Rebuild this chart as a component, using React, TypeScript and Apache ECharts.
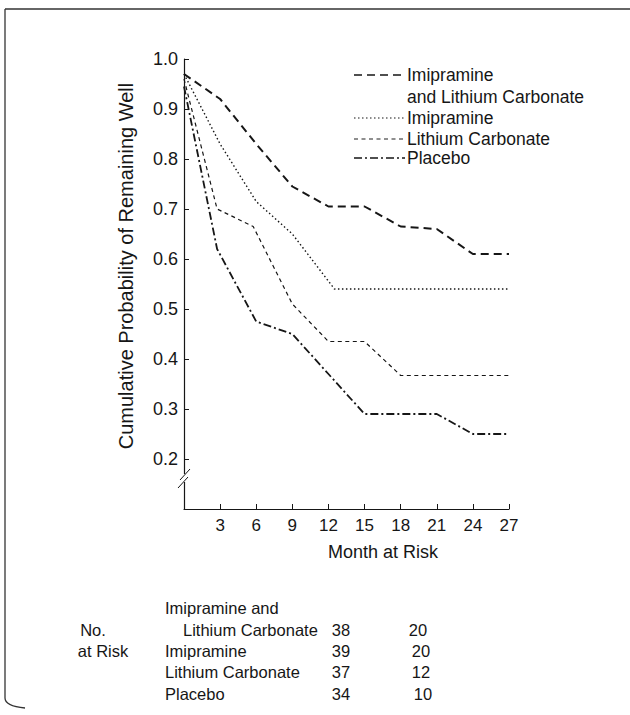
import React, { useEffect, useRef } from "react";
import * as echarts from "echarts";

// Month ticks on the x axis
const monthTicks = [3, 6, 9, 12, 15, 18, 21, 24, 27];
// y tick labels
const probTicks = [0.2, 0.3, 0.4, 0.5, 0.6, 0.7, 0.8, 0.9, 1.0];

// Imipramine and Lithium Carbonate
const imiLiMonths = [0, 3, 6, 9, 12, 15, 18, 21, 24, 27];
const imiLiValues = [0.97, 0.92, 0.83, 0.745, 0.705, 0.705, 0.665, 0.66, 0.61, 0.61];

// Imipramine
const imiMonths = [0, 3, 6, 9, 12.5, 27];
const imiValues = [0.97, 0.83, 0.715, 0.65, 0.54, 0.54];

// Lithium Carbonate
const lithMonths = [0, 2.75, 5.75, 9, 12, 15, 18, 27];
const lithValues = [0.96, 0.7, 0.665, 0.51, 0.435, 0.435, 0.367, 0.367];

// Placebo
const placMonths = [0, 2.75, 6, 9, 12, 15, 21, 24, 27];
const placValues = [0.945, 0.62, 0.475, 0.45, 0.37, 0.29, 0.29, 0.25, 0.25];

// Number at risk table
const riskGroups = ["Imipramine and", "Lithium Carbonate", "Imipramine", "Lithium Carbonate", "Placebo"];
const riskCol1 = ["38", "39", "37", "34"];
const riskCol2 = ["20", "20", "12", "10"];

const FONT = '"Liberation Sans", Arial, Helvetica, sans-serif';
const INK = "#161616";

function pairs(xs: number[], ys: number[]) {
  return xs.map((x, i) => [x, ys[i]]);
}

export default function App() {
  const ref = useRef<HTMLDivElement>(null);

  useEffect(() => {
    if (!ref.current) return;
    const chart = echarts.init(ref.current, undefined, { renderer: "svg" });

    const lineStyles = [
      { width: 2, type: [8, 5] as number[] },
      { width: 1.4, type: [1.5, 2.5] as number[] },
      { width: 1.2, type: [4, 3.5] as number[] },
      { width: 1.8, type: [8, 3, 2, 3] as number[] },
    ];
    const names = ["Imipramine and Lithium Carbonate", "Imipramine", "Lithium Carbonate", "Placebo"];
    const datas = [
      pairs(imiLiMonths, imiLiValues),
      pairs(imiMonths, imiValues),
      pairs(lithMonths, lithValues),
      pairs(placMonths, placValues),
    ];

    const legendY = [75, 118, 139, 158];
    const legendText = ["Imipramine", "Imipramine", "Lithium Carbonate", "Placebo"];

    const graphics: any[] = [];
    // border
    graphics.push({ type: "line", shape: { x1: 5, y1: 9, x2: 630, y2: 9 }, style: { stroke: "#333", lineWidth: 1.3 } });
    graphics.push({ type: "line", shape: { x1: 5, y1: 9, x2: 5, y2: 698 }, style: { stroke: "#333", lineWidth: 1.3 } });
    graphics.push({
      type: "bezierCurve",
      shape: { x1: 5, y1: 698, x2: 25, y2: 708, cpx1: 5, cpy1: 705, cpx2: 15, cpy2: 707 },
      style: { stroke: "#333", lineWidth: 1.3, fill: null },
    });

    // legend
    legendY.forEach((y, i) => {
      graphics.push({
        type: "line",
        shape: { x1: 354, y1: y, x2: 405, y2: y },
        style: { stroke: INK, lineWidth: lineStyles[i].width * 0.8, lineDash: lineStyles[i].type },
      });
      graphics.push({
        type: "text",
        x: 407,
        y,
        style: { text: legendText[i], font: `17.5px ${FONT}`, fill: INK, verticalAlign: "middle", align: "left" },
      });
    });
    graphics.push({
      type: "text",
      x: 407,
      y: 97,
      style: { text: "and Lithium Carbonate", font: `17.5px ${FONT}`, fill: INK, verticalAlign: "middle", align: "left" },
    });

    // y axis name
    graphics.push({
      type: "text",
      x: 126,
      y: 266,
      rotation: Math.PI / 2,
      style: {
        text: "Cumulative Probability of Remaining Well",
        font: `20px ${FONT}`,
        fill: INK,
        align: "center",
        verticalAlign: "middle",
      },
    });
    // x axis name
    graphics.push({
      type: "text",
      x: 383,
      y: 552,
      style: { text: "Month at Risk", font: `18px ${FONT}`, fill: INK, align: "center", verticalAlign: "middle" },
    });

    // axis break
    graphics.push({ type: "rect", shape: { x: 179, y: 474, width: 10, height: 8 }, style: { fill: "#fff" }, z: 100 });
    graphics.push({ type: "line", shape: { x1: 180, y1: 480, x2: 190, y2: 469 }, style: { stroke: INK, lineWidth: 1 }, z: 101 });
    graphics.push({ type: "line", shape: { x1: 178, y1: 488, x2: 188, y2: 477 }, style: { stroke: INK, lineWidth: 1 }, z: 101 });

    // number at risk table
    graphics.push({ type: "text", x: 93, y: 630, style: { text: "No.", font: `16.5px ${FONT}`, fill: INK, align: "center", verticalAlign: "middle" } });
    graphics.push({ type: "text", x: 103, y: 651, style: { text: "at Risk", font: `16.5px ${FONT}`, fill: INK, align: "center", verticalAlign: "middle" } });
    const groupX = [165, 183, 165, 165, 165];
    const groupY = [608, 630, 651, 672, 694];
    riskGroups.forEach((g, i) => {
      graphics.push({
        type: "text",
        x: groupX[i],
        y: groupY[i],
        style: { text: g, font: `16.5px ${FONT}`, fill: INK, align: "left", verticalAlign: "middle" },
      });
    });
    const rowY = [630, 651, 672, 694];
    const col2X = [418, 421, 421, 423];
    riskCol1.forEach((v, i) => {
      graphics.push({
        type: "text",
        x: 341,
        y: rowY[i],
        style: { text: v, font: `16.5px ${FONT}`, fill: INK, align: "center", verticalAlign: "middle" },
      });
      graphics.push({
        type: "text",
        x: col2X[i],
        y: rowY[i],
        style: { text: riskCol2[i], font: `16.5px ${FONT}`, fill: INK, align: "center", verticalAlign: "middle" },
      });
    });

    chart.setOption({
      animation: false,
      backgroundColor: "#fff",
      grid: { left: 184, right: 121, top: 59, bottom: 206, containLabel: false },
      xAxis: {
        type: "value",
        min: 0,
        max: 27,
        interval: 3,
        axisLine: { lineStyle: { color: INK, width: 1.2 } },
        axisTick: { inside: true, length: 5, lineStyle: { color: INK } },
        splitLine: { show: false },
        axisLabel: {
          margin: 8,
          fontSize: 17,
          fontFamily: FONT,
          color: INK,
          formatter: (v: number) => (monthTicks.includes(v) ? String(v) : ""),
        },
      },
      yAxis: {
        type: "value",
        min: 0.1,
        max: 1.0,
        interval: 0.1,
        axisLine: { show: true, lineStyle: { color: INK, width: 1.2 } },
        axisTick: { inside: true, length: 5, lineStyle: { color: INK } },
        splitLine: { show: false },
        axisLabel: {
          margin: 6,
          fontSize: 18,
          fontFamily: FONT,
          color: INK,
          formatter: (v: number) => {
            const r = Math.round(v * 10) / 10;
            return probTicks.some((t) => Math.abs(t - r) < 1e-6) ? r.toFixed(1) : "";
          },
        },
      },
      series: datas.map((d, i) => ({
        name: names[i],
        type: "line",
        data: d,
        symbol: "none",
        lineStyle: { color: INK, width: lineStyles[i].width, type: lineStyles[i].type },
      })),
      graphic: graphics,
    });

    return () => chart.dispose();
  }, []);

  return (
    <div
      ref={ref}
      style={{ position: "fixed", left: 0, top: 0, width: 630, height: 715, background: "#fff" }}
    />
  );
}
